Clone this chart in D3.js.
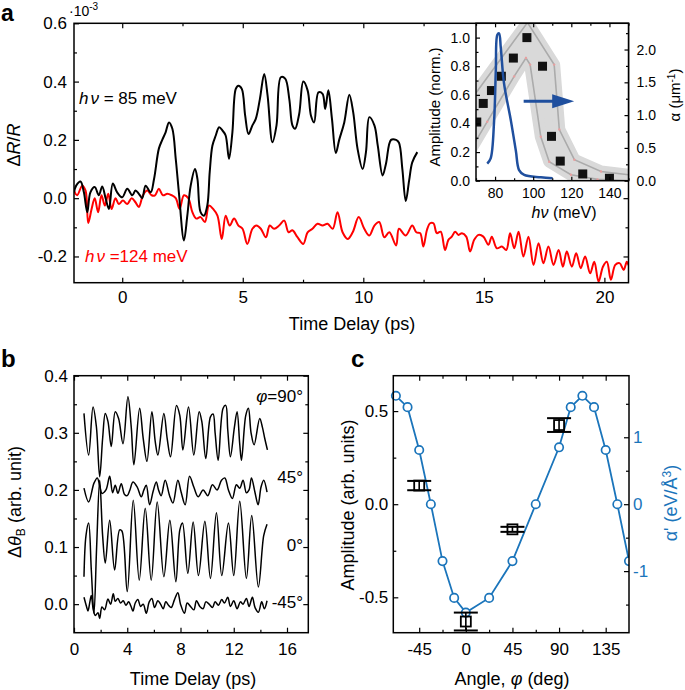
<!DOCTYPE html>
<html><head><meta charset="utf-8">
<script src="https://cdn.jsdelivr.net/npm/d3@7"></script>
<style>body{margin:0;background:#fff}svg{display:block}</style>
</head><body><svg id="c" width="685" height="690"></svg>
<script>
// ---------- Panel a: main traces (time ps, dR/R x1e-3) ----------
const black85 = [[-2.0,0.02],[-1.91,0.043],[-1.73,0.057],[-1.59,0.02],[-1.45,-0.048],[-1.32,0.02],[-1.14,0.038],[-0.97,0.01],[-0.83,0.04],[-0.69,0],[-0.55,-0.037],[-0.39,0.05],[-0.21,0.02],[0,0.003],[0.21,0.032],[0.42,0.01],[0.55,0.026],[0.69,0.015],[0.83,0],[0.97,0.043],[1.18,0.02],[1.32,0.066],[1.52,0.17],[1.66,0.2],[1.8,0.226],[1.94,0.26],[2.08,0.238],[2.22,0.135],[2.35,0.02],[2.56,-0.145],[2.7,-0.06],[2.84,0.043],[3.02,0.1],[3.12,0.066],[3.25,-0.048],[3.39,-0.06],[3.53,-0.025],[3.63,0.09],[3.74,0.18],[3.88,0.215],[4.02,0.243],[4.16,0.232],[4.29,0.215],[4.43,0.135],[4.57,0.226],[4.71,0.375],[4.82,0.386],[4.96,0.375],[5.1,0.283],[5.24,0.22],[5.4,0.25],[5.54,0.272],[5.71,0.34],[5.89,0.426],[6.03,0.352],[6.23,0.192],[6.4,0.25],[6.58,0.415],[6.76,0.41],[6.93,0.34],[7.06,0.25],[7.17,0.238],[7.34,0.289],[7.51,0.4],[7.69,0.37],[7.83,0.283],[7.96,0.26],[8.14,0.363],[8.31,0.358],[8.42,0.306],[8.55,0.37],[8.7,0.272],[8.86,0.155],[9.0,0.2],[9.21,0.26],[9.42,0.355],[9.58,0.295],[9.76,0.17],[9.97,0.1],[10.11,0.158],[10.25,0.278],[10.46,0.25],[10.6,0.18],[10.8,0.078],[10.94,0.118],[11.15,0.2],[11.36,0.2],[11.48,0.19],[11.62,0.1],[11.76,-0.01],[11.9,0.06],[12.03,0.123],[12.24,0.158]];
const red124 = [[-2.0,0.026],[-1.87,0.01],[-1.66,0.043],[-1.52,0.026],[-1.41,-0.085],[-1.27,-0.037],[-1.14,0],[-1.0,-0.048],[-0.86,0.01],[-0.72,-0.025],[-0.58,0.015],[-0.44,-0.037],[-0.28,0],[-0.14,-0.02],[0.03,-0.008],[0.21,-0.02],[0.39,0],[0.55,-0.014],[0.69,-0.03],[0.86,0.01],[1.04,0.026],[1.22,0.01],[1.36,0.01],[1.52,0.032],[1.69,0.01],[1.87,0.015],[2.05,0.01],[2.22,0],[2.38,-0.037],[2.56,0.01],[2.74,0],[2.91,-0.048],[3.07,-0.07],[3.25,-0.065],[3.43,-0.082],[3.6,-0.025],[3.77,-0.037],[3.95,-0.06],[4.13,-0.14],[4.29,-0.06],[4.46,-0.094],[4.64,-0.07],[4.82,-0.094],[4.99,-0.105],[5.19,-0.157],[5.4,-0.105],[5.57,-0.094],[5.75,-0.105],[5.96,-0.134],[6.12,-0.094],[6.3,-0.105],[6.51,-0.094],[6.72,-0.077],[6.9,-0.117],[7.06,-0.11],[7.27,-0.134],[7.51,-0.157],[7.69,-0.117],[7.89,-0.105],[8.1,-0.088],[8.31,-0.094],[8.52,-0.088],[8.73,-0.105],[8.93,-0.048],[9.14,-0.117],[9.35,-0.14],[9.56,-0.117],[9.81,-0.065],[10.04,-0.105],[10.25,-0.128],[10.46,-0.094],[10.66,-0.082],[10.87,-0.134],[11.08,-0.117],[11.36,-0.162],[11.48,-0.105],[11.76,-0.128],[12.03,-0.094],[12.2,-0.117],[12.36,-0.12],[12.49,-0.166],[12.64,-0.109],[12.77,-0.086],[12.91,-0.086],[13.05,-0.12],[13.21,-0.115],[13.39,-0.178],[13.53,-0.143],[13.67,-0.132],[13.81,-0.115],[13.95,-0.126],[14.09,-0.12],[14.27,-0.132],[14.43,-0.183],[14.6,-0.143],[14.78,-0.126],[14.98,-0.132],[15.19,-0.16],[15.33,-0.132],[15.54,-0.172],[15.75,-0.166],[15.93,-0.178],[16.09,-0.12],[16.26,-0.172],[16.44,-0.115],[16.64,-0.2],[16.85,-0.132],[17.06,-0.229],[17.27,-0.155],[17.47,-0.223],[17.68,-0.166],[17.89,-0.229],[18.1,-0.178],[18.28,-0.235],[18.44,-0.183],[18.65,-0.235],[18.83,-0.189],[19.02,-0.24],[19.2,-0.2],[19.41,-0.258],[19.58,-0.218],[19.76,-0.286],[19.94,-0.235],[20.1,-0.218],[20.27,-0.28],[20.45,-0.229],[20.63,-0.223],[20.8,-0.246],[20.93,-0.218],[21.0,-0.23]];
const aXTicks = [0,5,10,15,20];
const aXMinor = [2.5,7.5,12.5,17.5];
const aYTicks = [-0.2,0,0.2,0.4,0.6];
const aYMinor = [-0.1,0.1,0.3,0.5];

// ---------- Panel a inset ----------
const sqMeV = [70.4,73.8,78.1,83.3,89.6,96.7,104.9,109.6,114.2,126,140];
const sqAmp = [0.41,0.54,0.63,0.73,0.857,1.0,0.80,0.31,0.137,0.047,0.017];
const bandLowMeV = [68,75.9,90,96.2,98.4,104,108.4,119.8,133.8,150];
const bandLowA = [0.51,0.90,1.59,1.87,1.77,0.67,0.29,0.09,0.02,0.0];
const bandUpMeV = [68,97,111,113.7,121.6,135.6,150];
const bandUpA = [1.26,2.41,1.77,0.78,0.32,0.14,0.09];
const specMeV = [75.9,77.7,79.5,80.4,81.2,82.1,83,84.7,88.3,90.9,92.6,95.3,104,110.2];
const specAmp = [0.12,0.156,0.42,0.77,1.02,1.03,0.93,0.68,0.42,0.21,0.074,0.04,0.024,0.017];
const arrowMeV = [95,121.5];
const arrowAmp = 0.556;
const inXTicks = [80,100,120,140];
const inXMinor = [70,90,110,130,150];
const inYLTicks = [0,0.2,0.4,0.6,0.8,1.0];
const inYLMinor = [0.1,0.3,0.5,0.7,0.9];
const inYRTicks = [0,0.5,1.0,1.5,2.0];
const inYRMinor = [0.25,0.75,1.25,1.75,2.25];

// ---------- Panel b ----------
const b90 = [[0.75,0.334],[1.1,0.261],[1.43,0.345],[1.68,0.311],[1.93,0.223],[2.15,0.29],[2.35,0.334],[2.55,0.32],[2.8,0.276],[3.1,0.337],[3.35,0.325],[3.68,0.281],[4.05,0.363],[4.3,0.31],[4.5,0.244],[4.93,0.343],[5.2,0.29],[5.48,0.25],[5.85,0.337],[6.1,0.285],[6.3,0.261],[6.75,0.334],[7.0,0.29],[7.25,0.258],[7.7,0.348],[7.95,0.33],[8.18,0.27],[8.6,0.345],[9.0,0.261],[9.4,0.337],[9.6,0.32],[9.9,0.255],[10.25,0.328],[10.45,0.333],[10.6,0.3],[10.83,0.252],[11.2,0.343],[11.4,0.348],[11.55,0.305],[11.75,0.258],[12.05,0.31],[12.25,0.337],[12.45,0.28],[12.58,0.252],[12.9,0.33],[13.1,0.343],[13.3,0.3],[13.53,0.279],[13.95,0.325],[14.15,0.31],[14.33,0.29],[14.53,0.27]];
const b45 = [[0.75,0.203],[1.1,0.179],[1.5,0.212],[1.75,0.221],[1.95,0.205],[2.1,0.194],[2.4,0.2],[2.68,0.224],[2.9,0.195],[3.1,0.208],[3.3,0.194],[3.55,0.211],[3.8,0.192],[4.0,0.19],[4.2,0.2],[4.43,0.214],[4.75,0.205],[5.05,0.188],[5.25,0.2],[5.43,0.208],[5.68,0.174],[5.95,0.198],[6.18,0.214],[6.35,0.2],[6.55,0.19],[6.85,0.217],[7.18,0.19],[7.43,0.177],[7.8,0.217],[8.05,0.196],[8.35,0.174],[8.68,0.224],[9.0,0.205],[9.33,0.188],[9.7,0.2],[10.05,0.19],[10.4,0.209],[10.75,0.2],[11.08,0.217],[11.33,0.221],[11.6,0.2],[11.9,0.185],[12.2,0.209],[12.45,0.203],[12.7,0.217],[12.95,0.195],[13.15,0.2],[13.33,0.221],[13.6,0.195],[13.83,0.174],[14.05,0.205],[14.25,0.217],[14.5,0.196]];
const b0 = [[0.75,0.048],[0.9,0.12],[1.1,0.142],[1.3,0.06],[1.5,-0.016],[1.7,0.1],[1.93,0.217],[2.15,0.12],[2.35,0.072],[2.68,0.147],[3.05,0.06],[3.43,0.13],[3.6,0.128],[4.0,0.022],[4.45,0.182],[4.9,0.042],[5.35,0.168],[5.8,0.042],[6.25,0.179],[6.75,0.048],[7.2,0.147],[7.65,0.039],[7.95,0.13],[8.15,0.142],[8.55,0.054],[8.95,0.144],[9.35,0.05],[9.83,0.145],[10.25,0.045],[10.7,0.16],[11.1,0.05],[11.6,0.142],[12.0,0.05],[12.45,0.18],[12.95,0.045],[13.35,0.155],[13.85,0.03],[14.25,0.12],[14.5,0.14]];
const bm45 = [[0.75,0.012],[0.95,-0.005],[1.05,-0.012],[1.2,0.005],[1.3,0.015],[1.45,-0.01],[1.6,-0.02],[1.8,-0.015],[1.93,-0.025],[2.1,-0.005],[2.3,-0.01],[2.55,0.009],[2.75,0.0],[2.95,0.018],[3.1,0.005],[3.3,0.01],[3.5,0.002],[3.7,0.006],[3.9,-0.002],[4.1,0.004],[4.3,-0.005],[4.43,-0.012],[4.6,0.002],[4.8,0.008],[5.0,-0.004],[5.2,0.0],[5.43,-0.016],[5.65,0.004],[5.85,0.01],[6.05,-0.006],[6.3,0.006],[6.5,0.0],[6.7,-0.008],[6.9,0.004],[7.1,-0.002],[7.3,-0.006],[7.55,0.008],[7.8,0.02],[8.0,0.0],[8.3,-0.016],[8.5,0.002],[8.75,-0.004],[9.0,-0.01],[9.2,0.006],[9.45,-0.004],[9.7,-0.008],[9.9,0.004],[10.15,0.0],[10.4,-0.006],[10.6,0.004],[10.85,-0.002],[11.1,0.008],[11.3,0.002],[11.55,0.012],[11.75,-0.004],[12.0,0.006],[12.25,-0.008],[12.5,0.004],[12.7,0.0],[12.95,0.01],[13.15,-0.004],[13.4,0.012],[13.6,-0.006],[13.85,-0.014],[14.1,0.004],[14.3,-0.008],[14.5,0.006]];
const bXTicks = [0,4,8,12,16];
const bXMinor = [2,6,10,14];
const bYTicks = [0,0.1,0.2,0.3,0.4];
const bYMinor = [0.05,0.15,0.25,0.35];

// ---------- Panel c ----------
const cAngles = [-67.5,-56.25,-45,-33.75,-22.5,-11.25,0,22.5,45,67.5,90,101.25,112.5,123.75,135,146.25,157.5];
const cAlpha = [1.62,1.45,0.81,0,-0.85,-1.40,-1.62,-1.40,-0.85,0,0.85,1.45,1.62,1.45,0.81,0,-0.85];
const cExpAngles = [-45,0,45,90];
const cExpAmp = [0.1,-0.63,-0.135,0.425];
const cExpErr = [0.025,0.048,0.0135,0.037];
const cXTicks = [-45,0,45,90,135];
const cXMinor = [-22.5,22.5,67.5,112.5];
const cYLTicks = [-0.5,0,0.5];
const cYLMinor = [-0.25,0.25];
const cYRTicks = [-1,0,1];
const cYRMinor = [-1.5,-0.5,0.5,1.5];

// =========================================================
const svg = d3.select('#c');
const F = "'Liberation Sans', Arial, Helvetica, sans-serif";
const BLUE = '#1b75bb';

function addTicks(g, orient, scale, pos, values, size, fmt, pad, fs, color) {
  const axisF = {bottom: d3.axisBottom, top: d3.axisTop, left: d3.axisLeft, right: d3.axisRight}[orient];
  const a = axisF(scale).tickValues(values).tickSize(-size).tickPadding(pad || 0)
    .tickFormat(fmt || (() => ''));
  const tr = (orient === 'bottom' || orient === 'top') ? `translate(0,${pos})` : `translate(${pos},0)`;
  const gg = g.append('g').attr('transform', tr).call(a);
  gg.select('.domain').remove();
  gg.selectAll('line').attr('stroke', '#000').attr('stroke-width', 1.2);
  gg.selectAll('text').attr('font-family', F).attr('font-size', fs || 17).attr('fill', color || '#000');
  return gg;
}
function frame(g, x0, x1, y0, y1, fill) {
  g.append('rect').attr('x', x0).attr('y', y0).attr('width', x1 - x0).attr('height', y1 - y0)
    .attr('fill', fill || 'none').attr('stroke', '#000').attr('stroke-width', 1.5);
}
function clip(id, x0, x1, y0, y1) {
  svg.append('clipPath').attr('id', id).append('rect')
    .attr('x', x0).attr('y', y0).attr('width', x1 - x0).attr('height', y1 - y0);
}
const f1 = d => d.toFixed(1);

// ================= Panel a =================
const A = {l: 74, r: 628.5, t: 23.3, b: 282.7};
const xA = d3.scaleLinear([-2, 21], [A.l, A.r]);
const yA = d3.scaleLinear([-0.29, 0.6], [A.b, A.t]);
const gA = svg.append('g');
clip('clipA', A.l, A.r, A.t, A.b);
const lineA = d3.line().x(d => xA(d[0])).y(d => yA(d[1])).curve(d3.curveCatmullRom.alpha(0.5));
gA.append('path').datum(red124).attr('d', lineA).attr('fill', 'none').attr('stroke', '#ff0000')
  .attr('stroke-width', 2).attr('stroke-linejoin', 'round').attr('clip-path', 'url(#clipA)');
gA.append('path').datum(black85).attr('d', lineA).attr('fill', 'none').attr('stroke', '#000')
  .attr('stroke-width', 2).attr('stroke-linejoin', 'round').attr('clip-path', 'url(#clipA)');
frame(gA, A.l, A.r, A.t, A.b);
addTicks(gA, 'bottom', xA, A.b, aXTicks, 5, d => d, 8, 17);
addTicks(gA, 'bottom', xA, A.b, aXMinor, 3);
addTicks(gA, 'top', xA, A.t, aXTicks, 5);
addTicks(gA, 'top', xA, A.t, aXMinor, 3);
addTicks(gA, 'left', yA, A.l, aYTicks, 5, f1, 7, 17);
addTicks(gA, 'left', yA, A.l, aYMinor, 3);
addTicks(gA, 'right', yA, A.r, aYTicks, 5);
addTicks(gA, 'right', yA, A.r, aYMinor, 3);

// texts
svg.append('text').attr('x', 1).attr('y', 21).attr('font-family', F).attr('font-weight', 'bold')
  .attr('font-size', 23).text('a');
const ex = svg.append('text').attr('x', 69).attr('y', 16).attr('font-family', F).attr('font-size', 14);
ex.append('tspan').text('·10');
ex.append('tspan').attr('dy', -6).attr('font-size', 10).text('-3');
const yl = svg.append('text').attr('transform', 'translate(20,145) rotate(-90)').attr('text-anchor', 'middle')
  .attr('font-family', F).attr('font-size', 18);
yl.append('tspan').text('Δ');
yl.append('tspan').attr('font-style', 'italic').text('R');
yl.append('tspan').text('/');
yl.append('tspan').attr('font-style', 'italic').text('R');
const t85 = svg.append('text').attr('x', 79).attr('y', 104).attr('font-family', F).attr('font-size', 17);
t85.append('tspan').attr('font-style', 'italic').text('h');
t85.append('tspan').attr('font-style', 'italic').attr('dx', 2).text('ν');
t85.append('tspan').text(' = 85 meV');
const t124 = svg.append('text').attr('x', 85).attr('y', 262).attr('font-family', F).attr('font-size', 17).attr('fill', '#ff0000');
t124.append('tspan').attr('font-style', 'italic').text('h');
t124.append('tspan').attr('font-style', 'italic').attr('dx', 2).text('ν');
t124.append('tspan').text(' =124 meV');
svg.append('text').attr('x', 352).attr('y', 330).attr('text-anchor', 'middle').attr('font-family', F)
  .attr('font-size', 18).text('Time Delay (ps)');

// ---------- inset ----------
const I = {l: 476, r: 628.5, t: 23.3, b: 180.7};
const xI = d3.scaleLinear([70, 150], [I.l, I.r]);
const yIL = d3.scaleLinear([0, 1.1], [I.b, I.t]);
const yIR = d3.scaleLinear([0, 2.4], [I.b, I.t]);
const gI = svg.append('g');
gI.append('rect').attr('x', I.l).attr('y', I.t).attr('width', I.r - I.l).attr('height', I.b - I.t).attr('fill', '#fff');
clip('clipI', I.l, I.r, I.t, I.b);
const gIc = gI.append('g').attr('clip-path', 'url(#clipI)');
const upPts = bandUpMeV.map((m, i) => [xI(m), yIR(bandUpA[i])]);
const lowPts = bandLowMeV.map((m, i) => [xI(m), yIR(bandLowA[i])]);
const poly = upPts.concat(lowPts.slice().reverse());
gIc.append('path').attr('d', 'M' + poly.map(p => p.join(',')).join('L') + 'Z').attr('fill', '#d9d9d9');
[upPts, lowPts].forEach(pts => {
  gIc.append('path').attr('d', d3.line()(pts)).attr('fill', 'none').attr('stroke', '#d9d9d9')
    .attr('stroke-width', 12).attr('stroke-linejoin', 'round').attr('stroke-linecap', 'round');
});
[upPts, lowPts].forEach(pts => {
  gIc.append('path').attr('d', d3.line()(pts)).attr('fill', 'none').attr('stroke', '#ababab')
    .attr('stroke-width', 1.6);
  gIc.selectAll(null).data(pts.slice(1, -1)).join('circle').attr('cx', d => d[0]).attr('cy', d => d[1])
    .attr('r', 1.2).attr('fill', '#e8a0a0');
});
gIc.selectAll('rect.sq').data(sqMeV).join('rect').attr('class', 'sq')
  .attr('x', (d, i) => xI(d) - 4.5).attr('y', (d, i) => yIL(sqAmp[i]) - 4.5)
  .attr('width', 9).attr('height', 9).attr('fill', '#111');
gIc.append('path').datum(specMeV.map((m, i) => [m, specAmp[i]]))
  .attr('d', d3.line().x(d => xI(d[0])).y(d => yIL(d[1])).curve(d3.curveCatmullRom.alpha(0.5))).attr('fill', 'none')
  .attr('stroke', '#1f4f9e').attr('stroke-width', 2.5).attr('stroke-linejoin', 'round');
// arrow
const ax0 = xI(arrowMeV[0]), ax1 = xI(arrowMeV[1]), ay = yIL(arrowAmp);
gIc.append('line').attr('x1', ax0).attr('x2', ax1 - 20).attr('y1', ay).attr('y2', ay)
  .attr('stroke', '#1f4f9e').attr('stroke-width', 3);
gIc.append('path').attr('d', `M${ax1},${ay}L${ax1 - 22},${ay - 7}L${ax1 - 22},${ay + 7}Z`).attr('fill', '#1f4f9e');
frame(gI, I.l, I.r, I.t, I.b);
addTicks(gI, 'bottom', xI, I.b, inXTicks, 4, d => d, 7.5, 14);
addTicks(gI, 'bottom', xI, I.b, inXMinor, 2.5);
addTicks(gI, 'top', xI, I.t, inXTicks, 4);
addTicks(gI, 'top', xI, I.t, inXMinor, 2.5);
addTicks(gI, 'left', yIL, I.l, inYLTicks, 4, f1, 6, 14);
addTicks(gI, 'left', yIL, I.l, inYLMinor, 2.5);
addTicks(gI, 'right', yIR, I.r, inYRTicks, 4, f1, 8, 14);
addTicks(gI, 'right', yIR, I.r, inYRMinor, 2.5);
svg.append('text').attr('transform', 'translate(440,107) rotate(-90)').attr('text-anchor', 'middle')
  .attr('font-family', F).attr('font-size', 15).text('Amplitude (norm.)');
const ar = svg.append('text').attr('transform', 'translate(680,95) rotate(-90)').attr('text-anchor', 'middle')
  .attr('font-family', F).attr('font-size', 15);
ar.append('tspan').text('α (μm');
ar.append('tspan').attr('dy', -5).attr('font-size', 10).text('-1');
ar.append('tspan').attr('dy', 5).text(')');
const hx = svg.append('text').attr('x', 564).attr('y', 218).attr('text-anchor', 'middle')
  .attr('font-family', F).attr('font-size', 16);
hx.append('tspan').attr('font-style', 'italic').text('hν');
hx.append('tspan').text(' (meV)');

// ================= Panel b =================
const B = {l: 74, r: 308.3, t: 375.7, b: 632.7};
const xB = d3.scaleLinear([0, 17.6], [B.l, B.r]);
const yB = d3.scaleLinear([-0.05, 0.4], [B.b, B.t]);
const gB = svg.append('g');
clip('clipB', B.l, B.r, B.t, B.b);
const lineB = d3.line().x(d => xB(d[0])).y(d => yB(d[1])).curve(d3.curveCatmullRom.alpha(0.5));
[bm45, b0, b45, b90].forEach(s => {
  gB.append('path').datum(s).attr('d', lineB).attr('fill', 'none').attr('stroke', '#000')
    .attr('stroke-width', 1.5).attr('stroke-linejoin', 'round').attr('clip-path', 'url(#clipB)');
});
frame(gB, B.l, B.r, B.t, B.b);
addTicks(gB, 'bottom', xB, B.b, bXTicks, 5, d => d, 10, 17);
addTicks(gB, 'bottom', xB, B.b, bXMinor, 3);
addTicks(gB, 'top', xB, B.t, bXTicks, 5);
addTicks(gB, 'top', xB, B.t, bXMinor, 3);
addTicks(gB, 'left', yB, B.l, bYTicks, 5, f1, 6, 17);
addTicks(gB, 'left', yB, B.l, bYMinor, 3);
addTicks(gB, 'right', yB, B.r, bYTicks, 5);
addTicks(gB, 'right', yB, B.r, bYMinor, 3);
svg.append('text').attr('x', 1).attr('y', 366.7).attr('font-family', F).attr('font-weight', 'bold')
  .attr('font-size', 24).text('b');
const yb = svg.append('text').attr('transform', 'translate(21,502) rotate(-90)').attr('text-anchor', 'middle')
  .attr('font-family', F).attr('font-size', 18);
yb.append('tspan').text('Δ');
yb.append('tspan').attr('font-style', 'italic').text('θ');
yb.append('tspan').attr('dy', 4).attr('font-size', 12).text('B');
yb.append('tspan').attr('dy', -4).text(' (arb. unit)');
svg.append('text').attr('x', 193).attr('y', 685).attr('text-anchor', 'middle').attr('font-family', F)
  .attr('font-size', 18).text('Time Delay (ps)');
const p90 = svg.append('text').attr('x', 303).attr('y', 402).attr('text-anchor', 'end').attr('font-family', F).attr('font-size', 17);
p90.append('tspan').attr('font-style', 'italic').text('φ');
p90.append('tspan').text('=90°');
[['45°', 483], ['0°', 551], ['-45°', 608]].forEach(([t, y]) => {
  svg.append('text').attr('x', 303).attr('y', y).attr('text-anchor', 'end').attr('font-family', F)
    .attr('font-size', 17).text(t);
});

// ================= Panel c =================
const C = {l: 393.3, r: 629, t: 375.7, b: 632.7};
const xC = d3.scaleLinear([-70, 157.5], [C.l, C.r]);
const yCL = d3.scaleLinear([-0.69, 0.69], [C.b, C.t]);
const yCR = d3.scaleLinear([-1.92, 1.92], [C.b, C.t]);
const gC = svg.append('g');
clip('clipC', C.l - 12, C.r, C.t - 8, C.b);
const gCc = gC.append('g').attr('clip-path', 'url(#clipC)');
const cPts = cAngles.map((a, i) => [a, cAlpha[i]]);
gCc.append('path').datum(cPts).attr('d', d3.line().x(d => xC(d[0])).y(d => yCR(d[1])))
  .attr('fill', 'none').attr('stroke', BLUE).attr('stroke-width', 1.8);
gCc.selectAll('circle').data(cPts).join('circle').attr('cx', d => xC(d[0])).attr('cy', d => yCR(d[1]))
  .attr('r', 4.2).attr('fill', '#fff').attr('stroke', BLUE).attr('stroke-width', 1.7);
// experimental points with error bars
cExpAngles.forEach((a, i) => {
  const x = xC(a), y = yCL(cExpAmp[i]);
  const yh = yCL(cExpAmp[i] + cExpErr[i]), yl2 = yCL(cExpAmp[i] - cExpErr[i]);
  gC.append('line').attr('x1', x).attr('x2', x).attr('y1', yh).attr('y2', yl2).attr('stroke', '#000').attr('stroke-width', 1.6);
  [yh, yl2].forEach(yy => gC.append('line').attr('x1', x - 12).attr('x2', x + 12).attr('y1', yy).attr('y2', yy)
    .attr('stroke', '#000').attr('stroke-width', 2));
  gC.append('rect').attr('x', x - 5).attr('y', y - 5).attr('width', 10).attr('height', 10)
    .attr('fill', 'none').attr('stroke', '#000').attr('stroke-width', 1.8);
});
frame(gC, C.l, C.r, C.t, C.b);
addTicks(gC, 'bottom', xC, C.b, cXTicks, 5, d => d, 10, 17);
addTicks(gC, 'bottom', xC, C.b, cXMinor, 3);
addTicks(gC, 'top', xC, C.t, cXTicks, 5);
addTicks(gC, 'top', xC, C.t, cXMinor, 3);
addTicks(gC, 'left', yCL, C.l, cYLTicks, 5, f1, 5, 17);
addTicks(gC, 'left', yCL, C.l, cYLMinor, 3);
addTicks(gC, 'right', yCR, C.r, cYRTicks, 5, d => d, 4, 17, BLUE);
addTicks(gC, 'right', yCR, C.r, cYRMinor, 3);
svg.append('text').attr('x', 351).attr('y', 366.7).attr('font-family', F).attr('font-weight', 'bold')
  .attr('font-size', 24).text('c');
svg.append('text').attr('transform', 'translate(354,505) rotate(-90)').attr('text-anchor', 'middle')
  .attr('font-family', F).attr('font-size', 18).text('Amplitude (arb. units)');
const rc = svg.append('text').attr('transform', 'translate(677,503) rotate(-90)').attr('text-anchor', 'middle')
  .attr('font-family', F).attr('font-size', 18).attr('fill', BLUE);
rc.append('tspan').text("α' (eV/Å");
rc.append('tspan').attr('dy', -6).attr('font-size', 12).text('3');
rc.append('tspan').attr('dy', 6).text(')');
const xc = svg.append('text').attr('x', 512).attr('y', 685).attr('text-anchor', 'middle')
  .attr('font-family', F).attr('font-size', 18);
xc.append('tspan').text('Angle, ');
xc.append('tspan').attr('font-style', 'italic').text('φ');
xc.append('tspan').text(' (deg)');
</script></body></html>
